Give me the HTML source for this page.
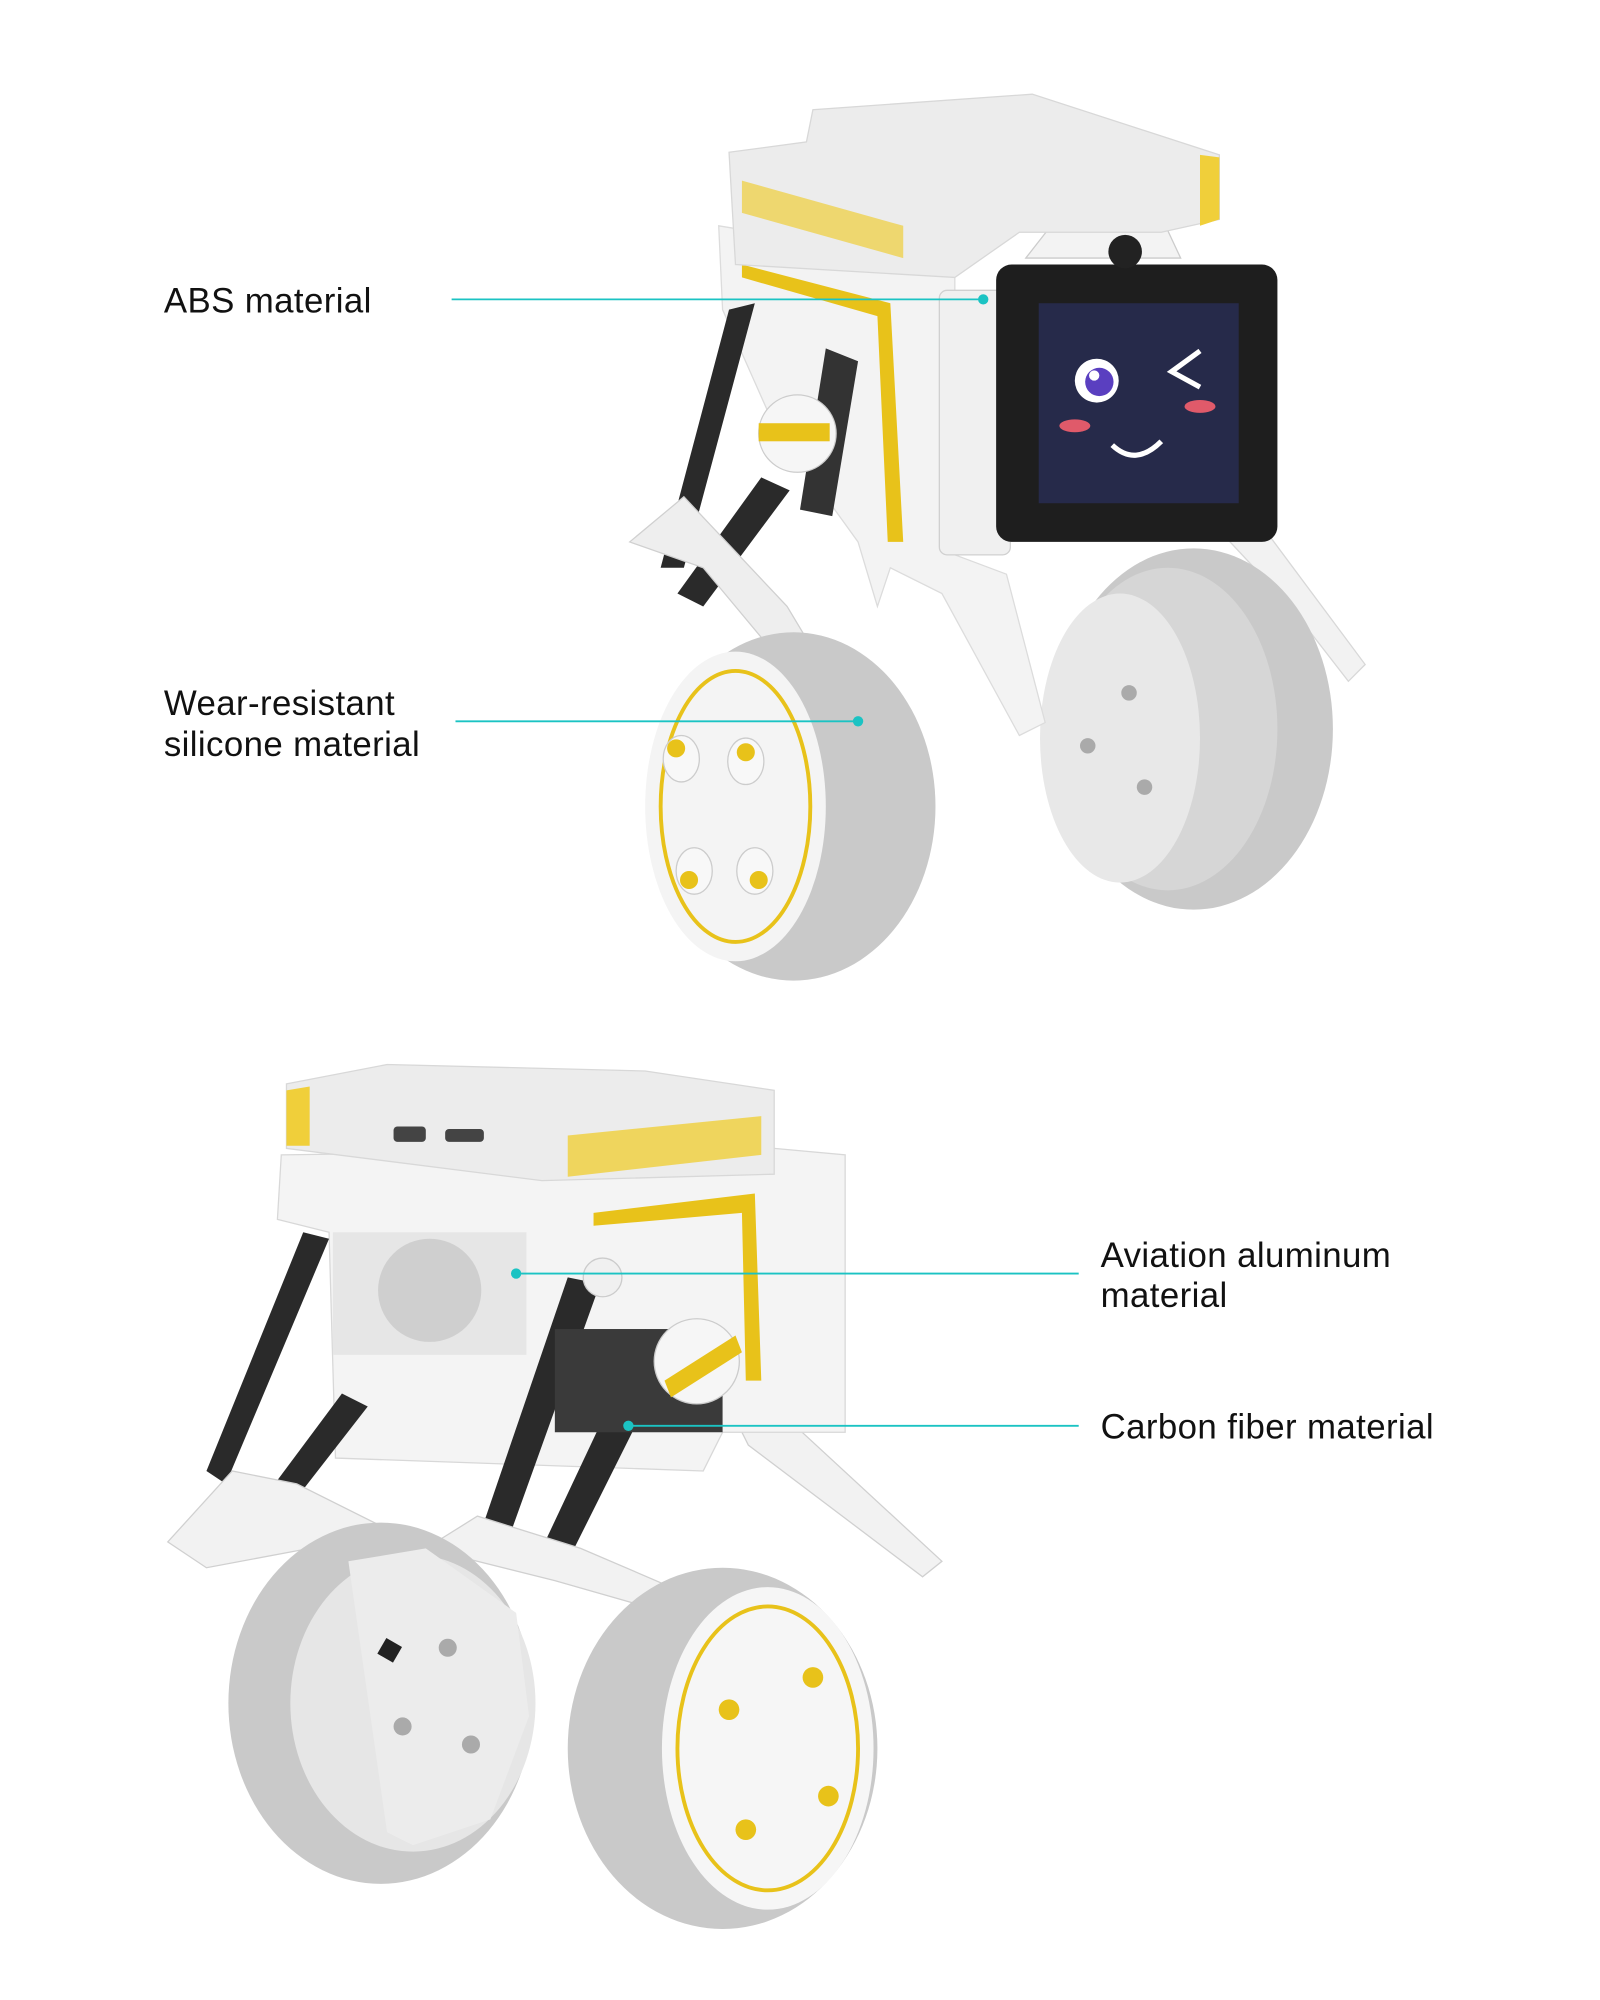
<!DOCTYPE html>
<html><head><meta charset="utf-8"><style>
html,body{margin:0;padding:0;background:#fff;}
svg{display:block;}
text{font-family:"Liberation Sans",sans-serif;font-size:27px;fill:#111;letter-spacing:0.3px;}
</style></head><body>
<svg width="1600" height="2000" viewBox="0 0 1240 1550" xmlns="http://www.w3.org/2000/svg">
<rect width="1240" height="1550" fill="#fff"/>
<!-- ===== TOP ROBOT ===== -->
<polygon points="930,395 965,390 1058,515 1045,528 1000,470" fill="#f2f2f2" stroke="#d8d8d8"/>
<ellipse cx="925" cy="565" rx="108" ry="140" fill="#c9c9c9"/>
<ellipse cx="905" cy="565" rx="85" ry="125" fill="#d6d6d6"/>
<ellipse cx="868" cy="572" rx="62" ry="112" fill="#e8e8e8"/>
<circle cx="875" cy="537" r="6" fill="#aaa"/><circle cx="843" cy="578" r="6" fill="#aaa"/><circle cx="887" cy="610" r="6" fill="#aaa"/>
<polygon points="557,175 740,205 740,430 780,445 810,560 790,570 730,460 690,440 680,470 665,420 600,330 560,240" fill="#f3f3f3" stroke="#dcdcdc"/>
<polygon points="575,205 690,235 700,420 688,420 680,245 575,215" fill="#e8c21a"/>
<polygon points="565,240 585,235 530,440 512,440" fill="#2a2a2a"/>
<polygon points="590,370 612,380 545,470 525,460" fill="#2a2a2a"/>
<polygon points="640,270 665,280 645,400 620,395" fill="#333"/>
<polygon points="488,420 530,385 610,470 640,520 620,530 545,440" fill="#eee" stroke="#d0d0d0"/>
<circle cx="618" cy="336" r="30" fill="#f6f6f6" stroke="#ccc"/>
<rect x="588" y="328" width="55" height="14" fill="#e8c21a"/>
<ellipse cx="615" cy="625" rx="110" ry="135" fill="#c9c9c9"/>
<ellipse cx="570" cy="625" rx="70" ry="120" fill="#f4f4f4"/>
<ellipse cx="570" cy="625" rx="58" ry="105" fill="none" stroke="#e8c21a" stroke-width="3"/>
<g fill="#f8f8f8" stroke="#ccc"><ellipse cx="528" cy="588" rx="14" ry="18"/><ellipse cx="578" cy="590" rx="14" ry="18"/><ellipse cx="538" cy="675" rx="14" ry="18"/><ellipse cx="585" cy="675" rx="14" ry="18"/></g>
<g fill="#e8c21a"><circle cx="524" cy="580" r="7"/><circle cx="578" cy="583" r="7"/><circle cx="534" cy="682" r="7"/><circle cx="588" cy="682" r="7"/></g>
<rect x="728" y="225" width="55" height="205" rx="6" fill="#f0f0f0" stroke="#d0d0d0"/>
<rect x="772" y="205" width="218" height="215" rx="12" fill="#1e1e1e"/>
<rect x="805" y="235" width="155" height="155" fill="#262a4a"/>
<circle cx="850" cy="295" r="17" fill="#fff"/><circle cx="852" cy="296" r="11" fill="#5a3fc0"/><circle cx="848" cy="291" r="4" fill="#fff"/>
<polyline points="930,272 908,288 930,300" fill="none" stroke="#fff" stroke-width="4"/>
<ellipse cx="833" cy="330" rx="12" ry="5" fill="#e05a6a"/><ellipse cx="930" cy="315" rx="12" ry="5" fill="#e05a6a"/>
<path d="M862,345 Q880,362 900,342" fill="none" stroke="#fff" stroke-width="4"/>
<polygon points="795,200 820,168 900,168 915,200" fill="#f3f3f3" stroke="#ccc"/>
<circle cx="872" cy="195" r="13" fill="#222"/>
<polygon points="565,118 625,110 630,85 800,73 945,120 945,170 900,180 790,180 740,215 570,205" fill="#ececec" stroke="#d8d8d8"/>
<polygon points="930,120 945,122 945,170 930,175" fill="#f0cf3a"/>
<polygon points="575,140 700,175 700,200 575,165" fill="#f0cf3a" opacity="0.7"/>
<!-- ===== BOTTOM ROBOT ===== -->
<polygon points="560,1080 600,1090 730,1210 715,1222 580,1120" fill="#f2f2f2" stroke="#d0d0d0"/>
<polygon points="218,895 600,890 655,895 655,1110 560,1110 545,1140 260,1130 255,955 215,945" fill="#f4f4f4" stroke="#d8d8d8"/>
<polygon points="460,940 585,925 590,1070 578,1070 575,940 460,950" fill="#e8c21a"/>
<rect x="258" y="955" width="150" height="95" fill="#e6e6e6"/>
<circle cx="333" cy="1000" r="40" fill="#cfcfcf"/>
<polygon points="235,955 255,960 175,1150 160,1140" fill="#2a2a2a"/>
<polygon points="265,1080 285,1090 215,1180 198,1170" fill="#2a2a2a"/>
<polygon points="440,990 465,995 395,1190 375,1180" fill="#2a2a2a"/>
<polygon points="500,1030 525,1040 440,1210 420,1200" fill="#2a2a2a"/>
<rect x="430" y="1030" width="130" height="80" fill="#3a3a3a"/>
<circle cx="540" cy="1055" r="33" fill="#f6f6f6" stroke="#ccc"/>
<polygon points="515,1070 570,1035 575,1048 520,1083" fill="#e8c21a"/>
<circle cx="467" cy="990" r="15" fill="#f0f0f0" stroke="#ccc"/>
<polygon points="130,1195 180,1140 230,1150 300,1185 330,1220 300,1230 240,1200 160,1215" fill="#f2f2f2" stroke="#d0d0d0"/>
<polygon points="330,1200 370,1175 450,1200 520,1230 500,1245 430,1225" fill="#f2f2f2" stroke="#d0d0d0"/>
<ellipse cx="295" cy="1320" rx="118" ry="140" fill="#c9c9c9"/>
<ellipse cx="320" cy="1320" rx="95" ry="115" fill="#e6e6e6"/>
<polygon points="270,1210 330,1200 400,1250 410,1330 380,1410 320,1430 300,1420" fill="#ececec"/>
<circle cx="347" cy="1277" r="7" fill="#aaa"/><circle cx="312" cy="1338" r="7" fill="#aaa"/><circle cx="365" cy="1352" r="7" fill="#aaa"/>
<rect x="295" y="1272" width="14" height="14" fill="#222" transform="rotate(30 302 1279)"/>
<ellipse cx="560" cy="1355" rx="120" ry="140" fill="#c9c9c9"/>
<ellipse cx="595" cy="1355" rx="82" ry="125" fill="#f6f6f6"/>
<ellipse cx="595" cy="1355" rx="70" ry="110" fill="none" stroke="#e8c21a" stroke-width="3"/>
<g fill="#e8c21a"><circle cx="565" cy="1325" r="8"/><circle cx="630" cy="1300" r="8"/><circle cx="578" cy="1418" r="8"/><circle cx="642" cy="1392" r="8"/></g>
<polygon points="222,840 300,825 500,830 600,845 600,910 420,915 222,890" fill="#ececec" stroke="#d8d8d8"/>
<polygon points="222,845 240,842 240,888 222,888" fill="#f0cf3a"/>
<polygon points="440,880 590,865 590,895 440,912" fill="#f0cf3a" opacity="0.8"/>
<rect x="305" y="873" width="25" height="12" rx="3" fill="#444"/><rect x="345" y="875" width="30" height="10" rx="3" fill="#444"/>
<!-- ===== LABELS ===== -->
<g stroke="#1bc3c3" stroke-width="1.4">
<line x1="350" y1="232" x2="762" y2="232"/>
<line x1="353" y1="559" x2="665" y2="559"/>
<line x1="400" y1="987" x2="836" y2="987"/>
<line x1="487" y1="1105" x2="836" y2="1105"/>
</g>
<g fill="#1bc3c3"><circle cx="762" cy="232" r="4"/><circle cx="665" cy="559" r="4"/><circle cx="400" cy="987" r="4"/><circle cx="487" cy="1105" r="4"/></g>
<text x="127" y="242">ABS material</text>
<text x="127" y="554">Wear-resistant</text>
<text x="127" y="586">silicone material</text>
<text x="853" y="982">Aviation aluminum</text>
<text x="853" y="1013">material</text>
<text x="853" y="1115">Carbon fiber material</text>
</svg>
</body></html>
